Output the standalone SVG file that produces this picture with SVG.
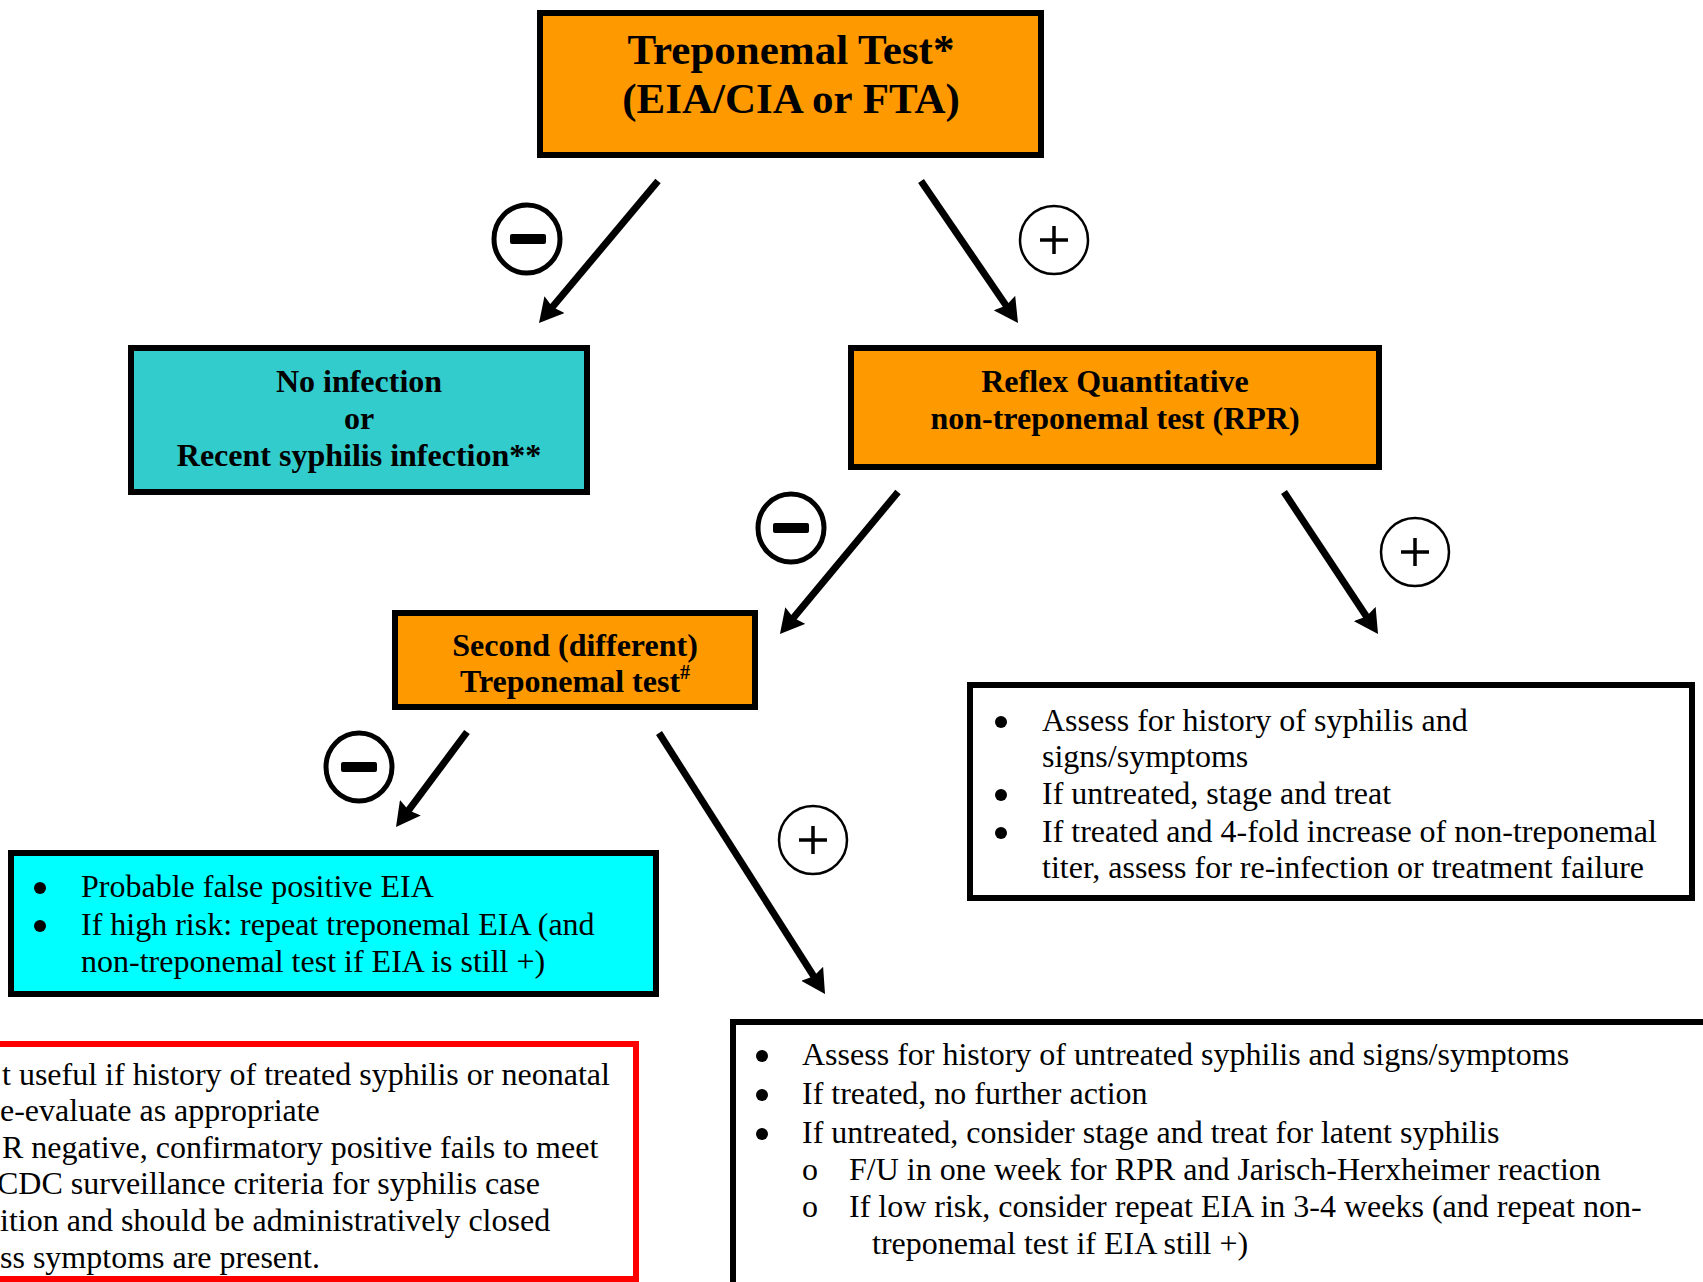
<svg xmlns="http://www.w3.org/2000/svg" width="1703" height="1282" viewBox="0 0 1703 1282">
<defs>
<style>
.box{stroke:#000;stroke-width:6}
.orange{fill:#FF9900}
.teal{fill:#33CCCC}
.cyan{fill:#00FFFF}
.white{fill:#FFFFFF}
.hdr{font-family:"Liberation Serif","Times New Roman",serif;font-weight:bold;text-anchor:middle;fill:#000}
.body{font-family:"Liberation Serif","Times New Roman",serif;font-size:32px;fill:#000}
.arrow{stroke:#000;stroke-width:7;fill:none;marker-end:url(#ah)}
.neg{fill:#fff;stroke:#000;stroke-width:5}
.pos{fill:#fff;stroke:#000;stroke-width:2.5}
.bar{fill:#000}
.plus{stroke:#000;stroke-width:3.5;fill:none}
.dot{fill:#000}
</style>
<marker id="ah" markerUnits="userSpaceOnUse" markerWidth="26" markerHeight="26" viewBox="0 0 26 26" refX="10" refY="13" orient="auto">
<path d="M0,0 L24,13 L0,26 L3,13 Z" fill="#000"/>
</marker>
</defs>
<rect width="1703" height="1282" fill="#fff"/>

<g id="connectors">
<line class="arrow" x1="658" y1="181" x2="548" y2="312.3"/>
<line class="arrow" x1="921" y1="181" x2="1010.1" y2="311.4"/>
<line class="arrow" x1="898" y1="492" x2="788.9" y2="623.2"/>
<line class="arrow" x1="1284" y1="492" x2="1370.3" y2="622.3"/>
<line class="arrow" x1="467" y1="732" x2="404.4" y2="815.8"/>
<line class="arrow" x1="659" y1="733" x2="817.5" y2="982.2"/>
<g id="neg1"><ellipse class="neg" cx="527" cy="239" rx="33" ry="34"/><rect class="bar" x="510" y="234" width="36" height="10" rx="2"/></g>
<g id="pos1"><ellipse class="pos" cx="1054" cy="240" rx="34" ry="34"/><path class="plus" d="M1040,240 H1068 M1054,226 V254"/></g>
<g id="neg2"><ellipse class="neg" cx="791" cy="528" rx="33" ry="34"/><rect class="bar" x="773" y="523" width="36" height="10" rx="2"/></g>
<g id="pos2"><ellipse class="pos" cx="1415" cy="552" rx="34" ry="34"/><path class="plus" d="M1401,552 H1429 M1415,538 V566"/></g>
<g id="neg3"><ellipse class="neg" cx="359" cy="767" rx="33" ry="34"/><rect class="bar" x="341" y="762" width="36" height="10" rx="2"/></g>
<g id="pos3"><ellipse class="pos" cx="813" cy="840" rx="34" ry="34"/><path class="plus" d="M799,840 H827 M813,826 V854"/></g>
</g>

<g id="treponemal-test">
<rect class="box orange" x="540" y="13" width="501" height="142"/>
<text class="hdr" font-size="43" x="791" y="64">Treponemal Test*</text>
<text class="hdr" font-size="43" x="791" y="113">(EIA/CIA or FTA)</text>
</g>

<g id="no-infection">
<rect class="box teal" x="131" y="348" width="456" height="144"/>
<text class="hdr" font-size="32" x="359" y="392">No infection</text>
<text class="hdr" font-size="32" x="359" y="429">or</text>
<text class="hdr" font-size="32" x="359" y="466">Recent syphilis infection**</text>
</g>

<g id="reflex-rpr">
<rect class="box orange" x="851" y="348" width="528" height="119"/>
<text class="hdr" font-size="32" x="1115" y="392">Reflex Quantitative</text>
<text class="hdr" font-size="32" x="1115" y="429">non-treponemal test (RPR)</text>
</g>

<g id="second-test">
<rect class="box orange" x="395" y="613" width="360" height="94"/>
<text class="hdr" font-size="32" x="575" y="656">Second (different)</text>
<text class="hdr" font-size="32" x="575" y="692">Treponemal test<tspan font-size="20" dy="-13">#</tspan></text>
</g>

<g id="rpr-positive">
<rect class="box white" x="970" y="685" width="722" height="213"/>
<circle class="dot" cx="1001" cy="722" r="6"/>
<text class="body" x="1042" y="731">Assess for history of syphilis and</text>
<text class="body" x="1042" y="767">signs/symptoms</text>
<circle class="dot" cx="1001" cy="795" r="6"/>
<text class="body" x="1042" y="804">If untreated, stage and treat</text>
<circle class="dot" cx="1001" cy="833" r="6"/>
<text class="body" x="1042" y="842">If treated and 4-fold increase of non-treponemal</text>
<text class="body" x="1042" y="878">titer, assess for re-infection or treatment failure</text>
</g>

<g id="false-positive">
<rect class="box cyan" x="11" y="853" width="645" height="141"/>
<circle class="dot" cx="40" cy="888" r="6"/>
<text class="body" x="81" y="897">Probable false positive EIA</text>
<circle class="dot" cx="40" cy="926" r="6"/>
<text class="body" x="81" y="935">If high risk: repeat treponemal EIA (and</text>
<text class="body" x="81" y="972">non-treponemal test if EIA is still +)</text>
</g>

<g id="note-red">
<rect x="-20" y="1044" width="656" height="235" fill="#fff" stroke="#FF0000" stroke-width="6"/>
<text class="body" x="2" y="1085">t useful if history of treated syphilis or neonatal</text>
<text class="body" x="0" y="1121">e-evaluate as appropriate</text>
<text class="body" x="2" y="1158">R negative, confirmatory positive fails to meet</text>
<text class="body" x="-3" y="1194">CDC surveillance criteria for syphilis case</text>
<text class="body" x="0" y="1231">ition and should be administratively closed</text>
<text class="body" x="0" y="1268">ss symptoms are present.</text>
</g>

<g id="second-positive">
<rect x="733" y="1022" width="1000" height="300" fill="#fff" stroke="#000" stroke-width="6"/>
<circle class="dot" cx="762" cy="1056" r="6"/>
<text class="body" x="802" y="1065">Assess for history of untreated syphilis and signs/symptoms</text>
<circle class="dot" cx="762" cy="1095" r="6"/>
<text class="body" x="802" y="1104">If treated, no further action</text>
<circle class="dot" cx="762" cy="1134" r="6"/>
<text class="body" x="802" y="1143">If untreated, consider stage and treat for latent syphilis</text>
<text class="body" x="802" y="1180">o</text>
<text class="body" x="849" y="1180">F/U in one week for RPR and Jarisch-Herxheimer reaction</text>
<text class="body" x="802" y="1217">o</text>
<text class="body" x="849" y="1217">If low risk, consider repeat EIA in 3-4 weeks (and repeat non-</text>
<text class="body" x="872" y="1254">treponemal test if EIA still +)</text>
</g>
</svg>
